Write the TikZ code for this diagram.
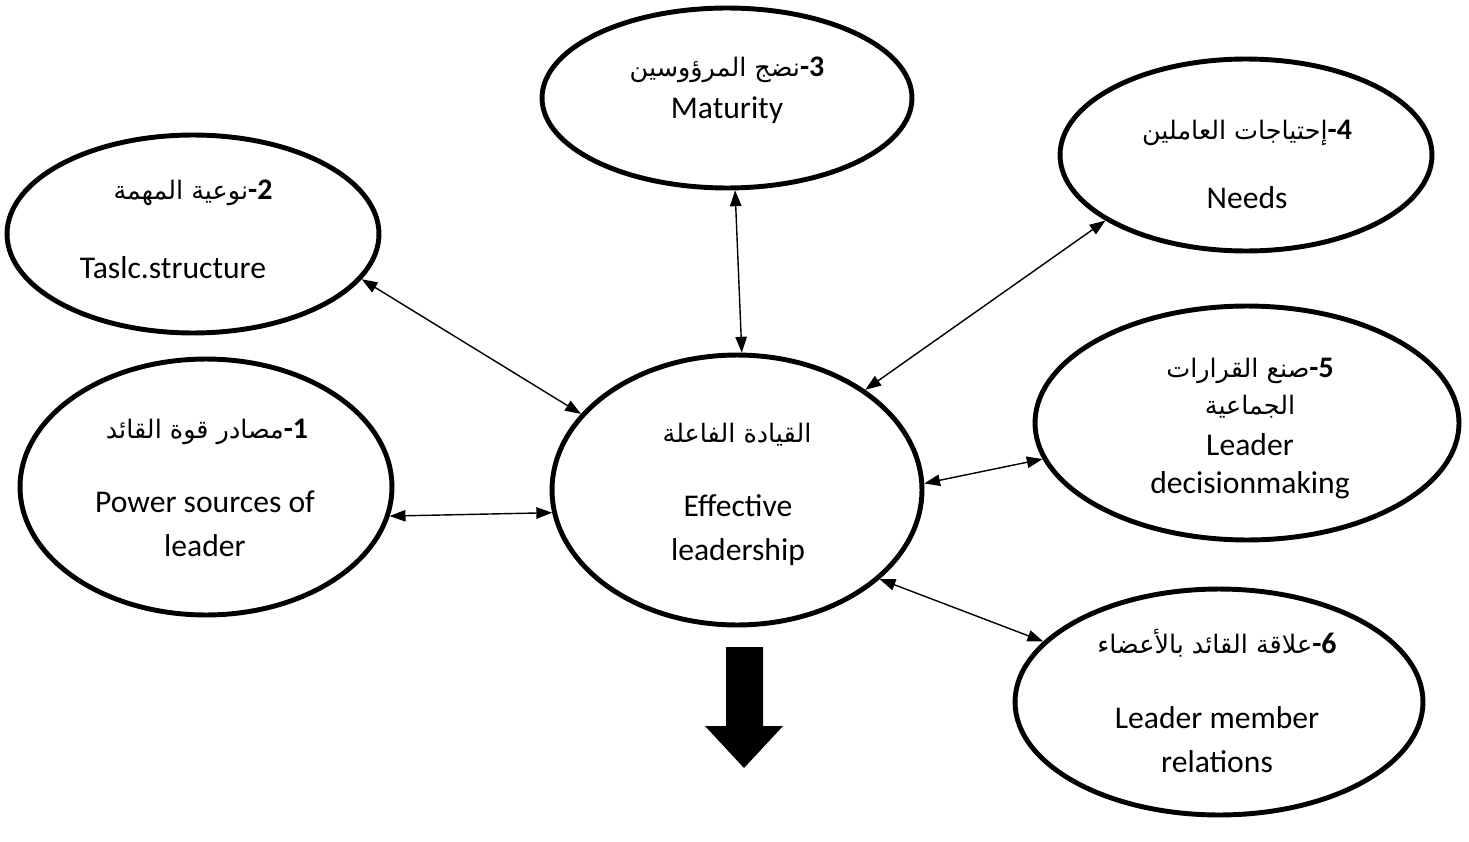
\documentclass[tikz,border=0pt]{standalone}
\usepackage{fontspec}
\setmainfont{Carlito}
\newfontfamily\arabicfont[Script=Arabic]{DejaVu Sans}
\TeXXeTstate=1
\usetikzlibrary{arrows.meta, shapes.geometric}
\newcommand{\artext}[1]{{\arabicfont\beginR #1\endR}}
\newcommand{\nr}[1]{{\fontsize{17}{22}\selectfont\bfseries -#1}}

\begin{document}
\begin{tikzpicture}[x=0.02cm, y=-0.02cm,
  factor/.style={draw, ellipse, line width=2.8pt, inner sep=0pt},
  entxt/.style={font=\fontsize{18}{25}\selectfont, align=center},
  artxt/.style={font=\fontsize{14.5}{22}\selectfont, align=center},
  >={Triangle[length=9pt, width=6.5pt]},
  link/.style={<->, line width=0.8pt}
]
\useasboundingbox (0,0) rectangle (1469,841);

% --- Elipsy czynnikow ---
\node[factor, minimum width=7.40cm, minimum height=5.40cm] (lead) at (737,490) {};
\node[factor, minimum width=7.44cm, minimum height=5.12cm] (e1) at (206,487) {};
\node[factor, minimum width=7.44cm, minimum height=3.96cm] (e2) at (193,234) {};
\node[factor, minimum width=7.40cm, minimum height=3.60cm] (e3) at (727,98) {};
\node[factor, minimum width=7.44cm, minimum height=3.84cm] (e4) at (1246,155) {};
\node[factor, minimum width=8.48cm, minimum height=4.68cm] (e5) at (1247,423) {};
\node[factor, minimum width=8.16cm, minimum height=4.52cm] (e6) at (1219,702) {};

% --- Teksty ---
\node[artxt] (tlar) at (737,435) {\artext{القيادة الفاعلة}};
\node[entxt] (tlen) at (738,530) {Effective\\leadership};

\node[artxt] (t1ar) at (207,432) {\artext{مصادر قوة القائد}\nr{1}};
\node[entxt] (t1en) at (205,524) {Power sources of\\leader};

\node[artxt] (t2ar) at (193,193) {\artext{نوعية المهمة}\nr{2}};
\node[entxt] (t2en) at (173,268) {Taslc.structure};

\node[artxt] (t3ar) at (727,70) {\artext{نضج المرؤوسين}\nr{3}};
\node[entxt] (t3en) at (727,110) {Maturity};

\node[artxt] (t4ar) at (1247,133) {\artext{إحتياجات العاملين}\nr{4}};
\node[entxt] (t4en) at (1247,198) {Needs};

\node[artxt] (t5ar) at (1250,388) {\artext{صنع القرارات}\nr{5}\\[-1pt] \artext{الجماعية}};
\node[entxt, font=\fontsize{18}{21.5}\selectfont] (t5en) at (1250,466) {Leader\\decisionmaking};

\node[artxt] (t6ar) at (1217,643) {\artext{علاقة القائد بالأعضاء}\nr{6}};
\node[entxt] (t6en) at (1217,740) {Leader member\\relations};

% --- Polaczenia ---
\draw[link] (e1.-9) -- (lead.-173);
\draw[link] (e2.-15) -- (lead.154);
\draw[link] (e3.-85) -- (lead.88);
\draw[link] (e4.-155) -- (lead.38);
\draw[link] (e5.-170) -- (lead.2);
\draw[link] (e6.161) -- (lead.-32);

% --- Duza strzalka w dol ---
\fill (726,647) -- (763,647) -- (763,726) -- (783,726) -- (744,768) -- (705,726) -- (726,726) -- cycle;

\end{tikzpicture}
\end{document}
